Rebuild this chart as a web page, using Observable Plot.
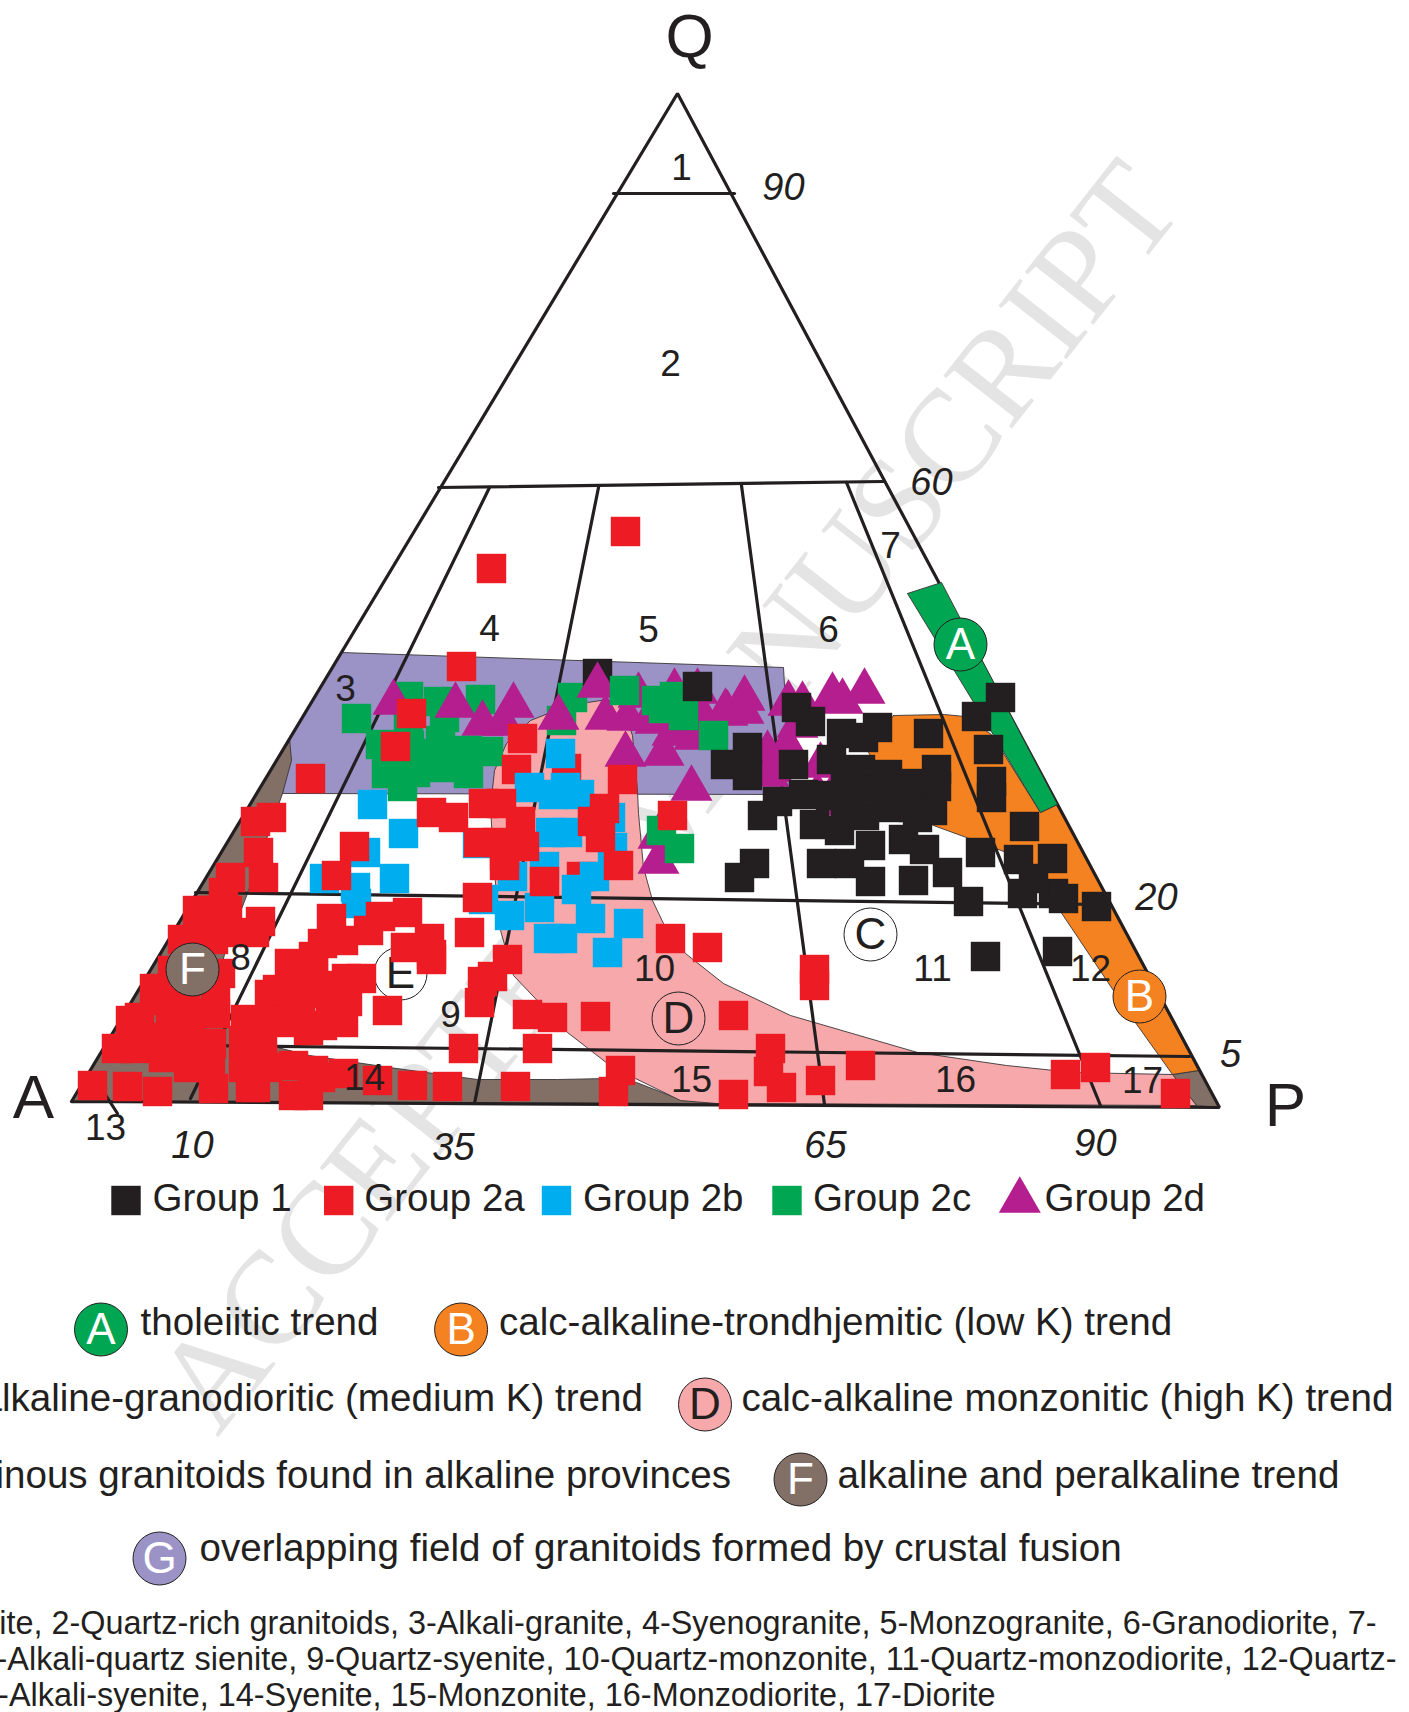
<!DOCTYPE html>
<html>
<head>
<meta charset="utf-8">
<script src="https://cdn.jsdelivr.net/npm/d3@7"></script>
<script src="https://cdn.jsdelivr.net/npm/@observablehq/plot@0.6"></script>
<style>html,body{margin:0;padding:0;background:#fff;overflow:hidden}svg{display:block}</style>
</head>
<body>
<div id="chart"></div>
<script>
// Sample positions in diagram units: x along the A-P base, y up towards Q (origin at the A corner).
const group1Under = [[526,431]];
const group1 = [[626,418],[676,357],[654,340],[676,329],[725,397],[739,383],[770,371],[792,367],[806,377],[857,371],[929,407],[905,388],[917,355],[920,323],[920,307],[722,340],[760,345],[789,335],[816,330],[865,335],[865,318],[774,316],[842,321],[732,310],[706,303],[691,289],[793,297],[816,297],[842,297],[861,294],[743,280],[768,274],[793,289],[846,287],[809,314],[834,304],[789,314],[774,294],[759,309],[799,259],[832,265],[853,255],[683,241],[668,227],[750,241],[778,241],[799,223],[842,224],[876,232],[897,203],[909,252],[947,245],[951,211],[953,278],[981,246],[982,211],[992,206],[1025,198],[962,226],[914,148],[986,153]];
const group2aUnder = [[495,336],[510,228],[445,335]];
const group2a = [[554,573],[420,536],[390,438],[340,391],[324,358],[451,366],[551,325],[360,292],[382,287],[412,301],[430,301],[449,283],[407,262],[426,262],[453,258],[433,249],[283,258],[533,296],[521,283],[529,267],[601,289],[547,239],[473,223],[433,239],[406,207],[398,172],[436,145],[421,128],[411,123],[408,102],[456,90],[481,87],[524,88],[392,56],[466,56],[376,18],[444,18],[549,34],[542,13],[599,166],[636,157],[662,89],[699,56],[697,33],[662,10],[710,17],[743,135],[743,119],[749,24],[789,39],[994,30],[1024,37],[1104,11],[239,326],[184,283],[200,287],[187,252],[159,227],[192,227],[152,212],[189,183],[183,172],[156,194],[142,194],[156,172],[139,172],[149,131],[144,91],[174,85],[265,229],[260,186],[309,188],[336,192],[297,174],[251,161],[272,164],[242,148],[358,166],[334,157],[360,150],[360,145],[218,141],[242,134],[275,126],[290,126],[206,115],[198,110],[229,117],[242,111],[276,103],[316,94],[214,89],[229,84],[237,74],[272,82],[251,79],[219,82],[229,104],[259,104],[254,119],[199,84],[274,114],[126,194],[111,165],[142,165],[101,134],[83,116],[59,84],[68,87],[99,91],[129,91],[114,89],[144,104],[114,109],[89,104],[45,56],[63,56],[79,64],[119,64],[96,67],[101,64],[140,61],[92,47],[117,37],[139,37],[172,64],[179,54],[191,44],[191,67],[172,37],[222,39],[196,37],[272,31],[242,34],[56,18],[86,13],[142,16],[179,17],[184,17],[222,9],[237,9],[306,24],[341,19],[249,27],[21,19]];
const group2b = [[301,300],[332,271],[489,351],[458,317],[482,310],[508,310],[494,317],[539,287],[541,257],[479,272],[496,272],[294,252],[473,238],[406,261],[441,228],[438,189],[468,197],[477,166],[491,166],[505,215],[519,186],[557,181],[536,152],[523,228],[412,205],[253,226],[323,226],[284,217],[285,201]];
const group2cUnder = [[337,408],[367,403],[409,405],[501,407],[490,384],[373,387],[337,381]];
const group2c = [[285,386],[553,414],[585,404],[603,408],[606,399],[331,318],[309,360],[315,331],[344,332],[369,364],[397,331],[417,353],[396,354],[352,351],[369,337],[338,359],[384,344],[590,274],[608,256],[642,369],[612,389],[592,396]];
const group2d = [[322,402],[384,399],[411,381],[442,399],[432,381],[487,387],[526,419],[534,387],[556,386],[567,409],[603,413],[554,350],[592,351],[584,383],[616,381],[620,316],[587,268],[587,243],[626,413],[656,391],[673,406],[717,401],[731,400],[761,409],[771,403],[793,413],[696,351],[716,358],[700,335],[749,339],[772,328],[746,309],[772,301],[629,391],[601,371],[623,367],[578,386],[654,393],[672,393],[726,379],[697,330]];

// Trend fields
const fieldG = [[270,452],[712,437],[719,310],[211,311],[218,366]];
const fieldF = [[0,3],[218,366],[220,344],[211,311],[176,211],[154,154],[144,114],[159,74],[206,57],[238,49],[318,37],[406,25],[486,25],[536,26],[565,22],[601,8],[645,1]];
const fieldFRight = [[1127,34],[1101,30],[1125,-1],[1148,-3]];
const fieldD = [[645,1],[609,4],[564,26],[536,41],[496,72],[442,129],[429,174],[423,231],[419,297],[423,334],[435,361],[459,384],[489,396],[516,402],[536,405],[551,398],[561,369],[566,314],[567,291],[572,237],[581,204],[592,181],[614,151],[652,121],[719,89],[846,52],[935,39],[1002,32],[1101,30],[1125,-1]];
const fieldB = [[822,389],[873,390],[893,388],[920,370],[969,292],[986,300],[1127,34],[1101,30],[1056,93],[989,193],[935,252],[895,267],[862,279],[829,304],[797,352]];
const fieldA = [[836,511],[870,522],[986,300],[969,292]];

// Diagram frame and the class boundaries
const frame = [[0,3],[606,1011],[1148,-3],[0,3]];
const boundaries = [
  [[542,911],[663,911]],
  [[367,617],[812,623]],
  [[124,212],[1027,200]],
  [[34,60],[1118,48]],
  [[418,617],[119,6]],
  [[527,617],[403,1]],
  [[670,619],[753,0]],
  [[775,622],[1029,-1]],
  [[24,25],[46,-9]]
];

// Class numbers, corner names, ticks
const classLabels = [["1",610,936],["2",599,740],["3",274,415],["4",418,475],["5",577,474],["6",757,474],["7",819,558],["8",169,146],["9",379,89],["10",583,135],["11",861,135],["12",1019,135],["13",34,-24],["14",293,26],["15",620,24],["16",884,24],["17",1071,23]];
const cornerLabels = [["Q",618,1067],["A",-38,6],["P",1214,-2]];
const tickLabels = [["90",712,917],["60",860,622],["20",1085,207],["5",1159,50],["10",121,-41],["35",382,-43],["65",754,-41],["90",1024,-39]];

// Legend
const legendSquares = [
  {name:"Group 1", x:54.5, y:-96, color:"#231f20"},
  {name:"Group 2a", x:267.2, y:-96, color:"#ed1c24"},
  {name:"Group 2b", x:485, y:-96, color:"#00aeef"},
  {name:"Group 2c", x:715.5, y:-96, color:"#00a651"}
];
const legendNames = [["Group 1",81],["Group 2a",292.7],["Group 2b",511.5],["Group 2c",741.4],["Group 2d",973]];
const trendCircles = [
  ["A",889,460,"#00a651","white"],["B",1068,108,"#f58220","white"],["C",799,170,"white","#231f20"],["D",607,86,"none","#231f20"],["E",329,131,"white","#231f20"],["F",121,135,"#827067","white"],
  ["A",29.5,-225,"#00a651","white"],["B",389.6,-225,"#f58220","white"],["D",633.5,-300,"#f7a8ab","#231f20"],["F",729,-375,"#827067","white"],["G",88,-454,"#9b92c6","white"]
];
const trendTextsStart = [
  ["tholeiitic trend",69,-218],
  ["calc-alkaline-trondhjemitic (low K) trend",427.5,-218],
  ["calc-alkaline monzonitic (high K) trend",670,-294],
  ["alkaline and peralkaline trend",766,-371],
  ["overlapping field of granitoids formed by crustal fusion",128,-444]
];
const trendTextsEnd = [
  ["calc-alkaline-granodioritic (medium K) trend",571.5,-294],
  ["peraluminous granitoids found in alkaline provinces",659.5,-371]
];
const captionLines = [
  ["1-Quartzolite, 2-Quartz-rich granitoids, 3-Alkali-granite, 4-Syenogranite, 5-Monzogranite, 6-Granodiorite, 7-",1305,-519],
  ["Tonalite, 8-Alkali-quartz sienite, 9-Quartz-syenite, 10-Quartz-monzonite, 11-Quartz-monzodiorite, 12-Quartz-",1325,-555],
  ["diorite, 13-Alkali-syenite, 14-Syenite, 15-Monzonite, 16-Monzodiorite, 17-Diorite",924,-591]
];

const INK = "#231f20";
const X = d => d[0], Y = d => d[1];
const poly = (pts, fill) => Plot.line([...pts, pts[0]], {x:X, y:Y, fill, stroke:"#3a3435", strokeWidth:0.9, strokeLinejoin:"round"});
const square = (pts, fill) => Plot.dot(pts, {x:X, y:Y, symbol:"square", r:16.6, fill});
const triangle = (pts, r=15.6) => Plot.dot(pts, {x:X, y:Y, symbol:"triangle", r, fill:"#b41e8e"});
const circles = rows => Plot.dot(rows, {x:d=>d[1], y:d=>d[2], r:26.5, fill:d=>d[3], stroke:INK, strokeWidth:1});
const circleText = rows => Plot.text(rows, {x:d=>d[1], y:d=>d[2], text:d=>d[0], fill:d=>d[4], fontSize:44, lineAnchor:"middle"});

const chart = Plot.plot({
  width:1409, height:1712, margin:0,
  x:{domain:[-71,1338], axis:null},
  y:{domain:[-608,1104], axis:null},
  color:{type:"identity"},
  style:{background:"white", fontFamily:"'Liberation Sans', Arial, sans-serif"},
  marks:[
    // Watermark
    Plot.text(["ACCEPTED MANUSCRIPT"], {x:[597], y:[308], text:d=>d, rotate:-51.8, fontSize:132, fontFamily:"'Liberation Serif', serif", fill:"#e4e4e4", lineAnchor:"middle"}),
    // Fields
    poly(fieldG,"#9b92c6"),
    poly(fieldF,"#827067"), poly(fieldFRight,"#827067"),
    poly(fieldD,"#f7a8ab"), poly(fieldB,"#f58220"),
    // Frame and boundaries
    ...boundaries.map(b => Plot.line(b,{x:X,y:Y,stroke:INK,strokeWidth:3.2})),
    Plot.line(frame,{x:X,y:Y,stroke:INK,strokeWidth:3.2,strokeLinejoin:"miter"}),
    poly(fieldA,"#00a651"),
    circles(trendCircles.filter(d=>"CDE".includes(d[0]) && d[2]>0)),
    circleText(trendCircles.filter(d=>"CDE".includes(d[0]) && d[2]>0)),
    // Samples
    square(group2cUnder,"#00a651"),
    square(group1Under,INK),
    triangle(group2d),
    square(group2c,"#00a651"),
    square(group2aUnder,"#ed1c24"),
    square(group2b,"#00aeef"),
    square(group2a,"#ed1c24"),
    square(group1,INK),
    // Trend circles on top of samples
    circles(trendCircles.filter(d=>!"CDE".includes(d[0]) || d[2]<0)),
    circleText(trendCircles.filter(d=>!"CDE".includes(d[0]) || d[2]<0)),
    // Diagram text
    Plot.text(classLabels,{x:d=>d[1],y:d=>d[2],text:d=>d[0],fontSize:37,fill:INK,lineAnchor:"middle"}),
    Plot.text(cornerLabels,{x:d=>d[1],y:d=>d[2],text:d=>d[0],fontSize:62,fill:INK,lineAnchor:"middle"}),
    Plot.text(tickLabels,{x:d=>d[1],y:d=>d[2],text:d=>d[0],fontSize:38,fontStyle:"italic",fill:INK,lineAnchor:"middle"}),
    // Legend
    Plot.dot(legendSquares,{x:"x",y:"y",symbol:"square",r:16.6,fill:"color"}),
    triangle([[948.3,-96]],15.6),
    Plot.text(legendNames,{x:d=>d[1],y:-94,text:d=>d[0],fontSize:38.5,textAnchor:"start",fill:INK,lineAnchor:"middle"}),
    Plot.text(trendTextsStart,{x:d=>d[1],y:d=>d[2],text:d=>d[0],fontSize:38.6,textAnchor:"start",fill:INK,lineAnchor:"middle"}),
    Plot.text(trendTextsEnd,{x:d=>d[1],y:d=>d[2],text:d=>d[0],fontSize:38.6,textAnchor:"end",fill:INK,lineAnchor:"middle"}),
    Plot.text(captionLines,{x:d=>d[1],y:d=>d[2],text:d=>d[0],fontSize:32.4,textAnchor:"end",fill:INK,lineAnchor:"middle"})
  ]
});
document.getElementById("chart").append(chart);
</script>
</body>
</html>
